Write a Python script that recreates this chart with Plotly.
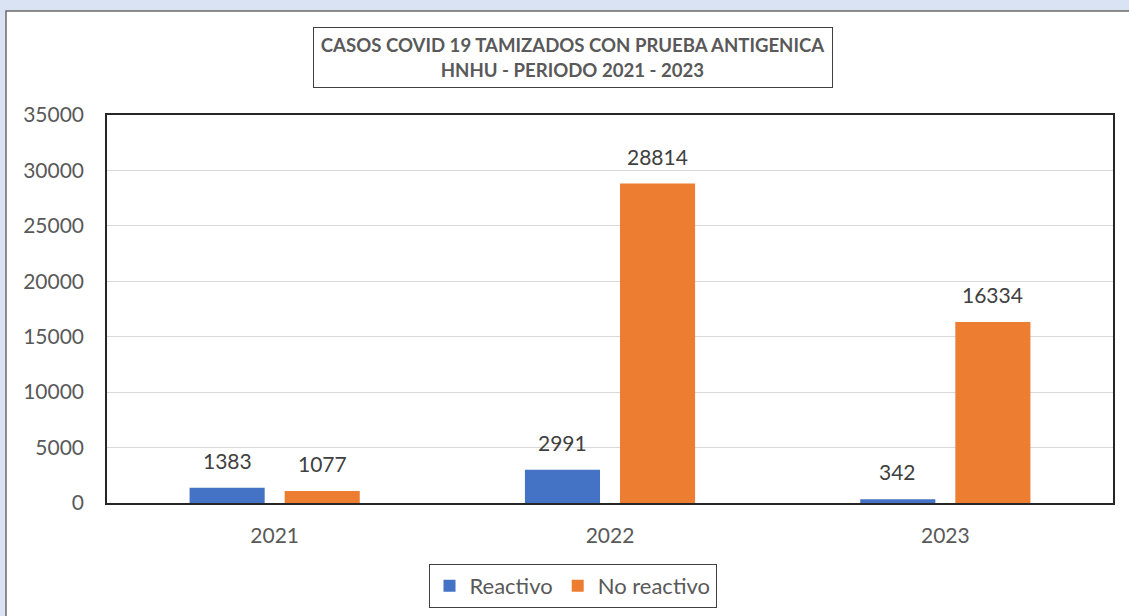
import plotly.graph_objects as go

years = ["2021", "2022", "2023"]
reactivo = [1383, 2991, 342]
no_reactivo = [1077, 28814, 16334]
series_names = ["Reactivo", "No reactivo"]
title_lines = ["CASOS COVID 19 TAMIZADOS CON PRUEBA ANTIGENICA", "HNHU - PERIODO 2021 - 2023"]

BLUE = "#4472C4"
ORANGE = "#ED7D31"
FONT = "Lato"

W, H = 1129, 616
L, R, T, B = 107, 16, 115, 113
PW = W - L - R
PH = H - T - B

def px_x(p):
    return (p - L) / PW

def px_y(p):
    return (H - B - p) / PH

fig = go.Figure()
fig.add_trace(go.Bar(x=years, y=reactivo, name=series_names[0], marker_color=BLUE,
                     marker_line_width=0))
fig.add_trace(go.Bar(x=years, y=no_reactivo, name=series_names[1], marker_color=ORANGE,
                     marker_line_width=0))

annotations = []
# category axis: numeric-looking names are read as indices, so use each category's index
for vals, shift in ((reactivo, -47.5), (no_reactivo, 47.5)):
    for idx, v in enumerate(vals):
        annotations.append(dict(x=idx, y=v, xref="x", yref="y", text=str(v), showarrow=False,
                                xshift=shift, yshift=13, yanchor="bottom",
                                font=dict(family=FONT, size=21, color="#404040")))

annotations.append(dict(xref="paper", yref="paper", x=px_x(573), y=px_y(57.5),
                        text="<b>" + title_lines[0] + "</b><br><b>" + title_lines[1] + "</b>",
                        showarrow=False, xanchor="center", yanchor="middle",
                        width=514, height=55, borderpad=2, bordercolor="#404040", borderwidth=1,
                        bgcolor="white", align="center",
                        font=dict(family=FONT, size=18.6, color="#595959")))

shapes = [
    dict(type="rect", xref="paper", yref="paper", x0=px_x(6), x1=px_x(W + 20),
         y0=px_y(H + 20), y1=px_y(11), fillcolor="white",
         line=dict(color="#6b6b6b", width=1.5), layer="below"),
]

fig.update_layout(
    width=W, height=H,
    margin=dict(l=L, r=R, t=T, b=B, autoexpand=False),
    paper_bgcolor="#DAE3F3",
    plot_bgcolor="rgba(0,0,0,0)",
    barmode="group",
    bargap=0.433,
    bargroupgap=0.21,
    showlegend=True,
    legend=dict(orientation="h", x=px_x(572.5), y=px_y(564), xanchor="center", yanchor="top",
                bordercolor="#404040", borderwidth=1, bgcolor="white",
                font=dict(family=FONT, size=22, color="#595959"),
                itemsizing="constant", traceorder="normal"),
    annotations=annotations,
    shapes=shapes,
    font=dict(family=FONT, color="#595959"),
)
fig.update_xaxes(type="category", showline=True, linecolor="#262626", linewidth=1.5, mirror=True,
                 tickfont=dict(family=FONT, size=21, color="#595959"),
                 ticks="", ticklabelstandoff=13)
fig.update_yaxes(range=[0, 35000], dtick=5000, showline=True, linecolor="#262626",
                 linewidth=1.5, mirror=True, showgrid=True, gridcolor="#D9D9D9", gridwidth=1,
                 zeroline=False, tickfont=dict(family=FONT, size=21, color="#595959"),
                 ticks="", ticklabelstandoff=17, tickformat="d")

fig.write_html("out.html", config={"displayModeBar": False},
               post_script="document.body.style.margin='0';document.body.style.background='#DAE3F3';")
